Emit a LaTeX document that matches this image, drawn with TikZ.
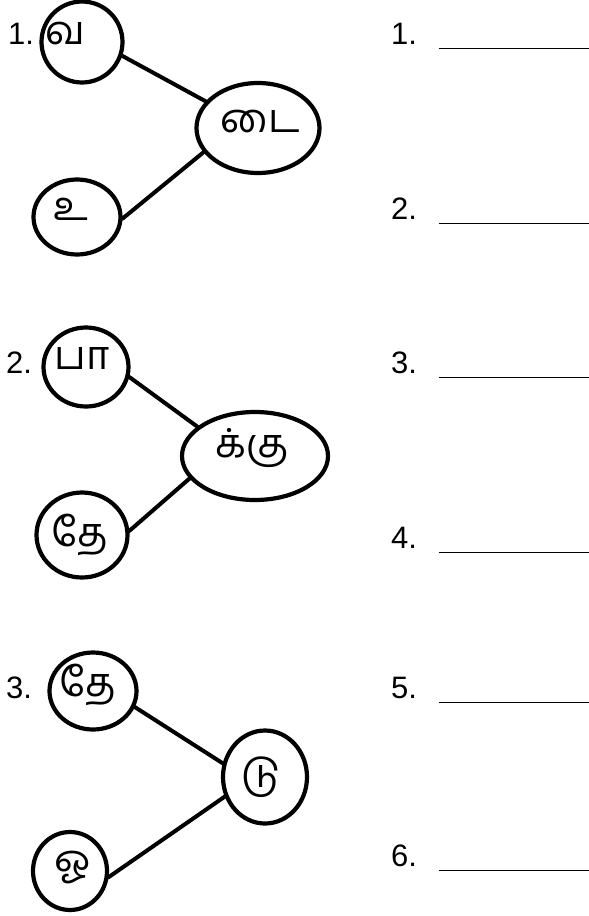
\documentclass[tikz,border=0pt]{standalone}
\usepackage{fontspec}
\setmainfont{Liberation Sans}
\newfontfamily\tamil[Script=Tamil]{Hind Madurai}
\usetikzlibrary{shapes.geometric}
\tikzset{blob/.style 2 args={ellipse, draw=black, line width=4.2pt, inner sep=0pt,
minimum width=#1, minimum height=#2},
letter/.style={font=\tamil\fontsize{40}{42}\selectfont, inner sep=0pt},
num/.style={font=\fontsize{31}{33}\selectfont, anchor=base west, inner sep=0pt},
link/.style={line width=4pt, line cap=round}}

\begin{document}
\begin{tikzpicture}[x=1pt,y=-1pt]
				\useasboundingbox (0,0) rectangle (589,916);
				% 1
				\node[num] (n1) at (8,44) {1.};
				\node[blob={81pt}{81pt}] (va) at (82,42) {};
				\node[letter] (vat) at (65,33) {வ};
				\node[blob={123pt}{90pt}] (dai) at (258,128) {};
				\node[letter] (dait) at (260,121) {டை};
				\node[blob={87pt}{75pt}] (u) at (77,217) {};
				\node[letter] (ut) at (71,209) {உ};
				\draw[link] (va.-19) -- (dai.153);
				\draw[link] (dai.204) -- (u.-2);
				% 2
				\node[num] (n2) at (6,373) {2.};
				\node[blob={85pt}{79pt}] (pa) at (86,367) {};
				\node[letter] (pat) at (82,359) {பா};
				\node[blob={146pt}{88pt}] (kku) at (255,456) {};
				\node[letter] (kkut) at (252,448) {க்கு};
				\node[blob={91pt}{85pt}] (the) at (82,535) {};
				\node[letter] (thet) at (80,535) {தே};
				\draw[link] (pa.-13) -- (kku.153);
				\draw[link] (kku.199) -- (the.5);
				% 3
				\node[num] (n3) at (6,698) {3.};
				\node[blob={87pt}{77pt}] (thee) at (93,691) {};
				\node[letter] (theet) at (88,685) {தே};
				\node[blob={84pt}{93pt}] (du) at (265,777) {};
				\node[letter] (dut) at (261,777) {டு};
				\node[blob={74pt}{78pt}] (o) at (70,871) {};
				\node[letter] (ot) at (73,868) {ஓ};
				\draw[link] (thee.-21) -- (du.162);
				\draw[link] (du.206) -- (o.-9);
				% answers
				\foreach \i/\y in {1/44, 2/219, 3/373, 4/548, 5/698, 6/866}
					\node[num] (a\i) at (391,\y) {\i.\hspace{22pt}\rule[-5pt]{150pt}{1.3pt}};
			\end{tikzpicture}
\end{document}
